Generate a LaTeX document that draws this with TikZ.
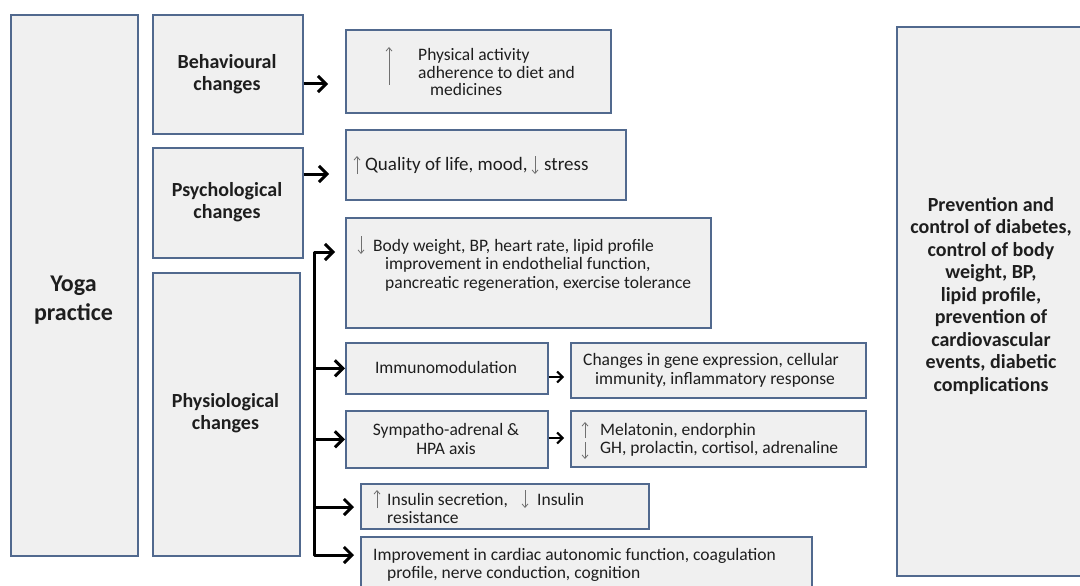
\documentclass[tikz,border=0pt]{standalone}
\usepackage{fontspec}
\setmainfont{Carlito}
\usetikzlibrary{arrows.meta}
\definecolor{bordc}{HTML}{51698E}
\definecolor{fillc}{HTML}{F0F0F0}
\definecolor{txtc}{HTML}{1E1E1E}
\definecolor{arrg}{HTML}{707070}
\begin{document}
\begin{tikzpicture}[x=1pt,y=-1pt,
  box/.style={draw=bordc,fill=fillc,line width=1.6pt,rectangle,inner sep=0pt,anchor=north west},
  lbl/.style={inner sep=0pt,text=txtc,font=\fontsize{17.5}{18.5}\selectfont,align=left,anchor=west},
  blbl/.style={inner sep=0pt,text=txtc,font=\bfseries\fontsize{20}{22.5}\selectfont,align=center},
  bigarr/.style={line width=3pt,-{Straight Barb[length=8pt,width=16pt]},line join=round},
  smarr/.style={line width=2pt,-{Straight Barb[length=5.5pt,width=11pt]}},
  txtarr/.style={arrg,line width=0.8pt,-{Straight Barb[length=3.5pt,width=6pt]}}]
\useasboundingbox (0,0) rectangle (1080,586);
\fill[white] (0,0) rectangle (1080,586);

% boxes
\node[box,minimum width=127pt,minimum height=541pt] (yoga) at (10,14) {};
\node[box,minimum width=150pt,minimum height=119pt] (behav) at (152,14) {};
\node[box,minimum width=150pt,minimum height=110pt] (psych) at (152,147) {};
\node[box,minimum width=147pt,minimum height=283pt] (physio) at (152,272) {};
\node[box,minimum width=265pt,minimum height=83pt] (b1) at (345,29) {};
\node[box,minimum width=280pt,minimum height=70pt] (b2) at (345,129) {};
\node[box,minimum width=365pt,minimum height=110pt] (b3) at (345,217) {};
\node[box,minimum width=202pt,minimum height=51pt] (immuno) at (345,342) {};
\node[box,minimum width=295pt,minimum height=55pt] (genes) at (570,342) {};
\node[box,minimum width=202pt,minimum height=57pt] (symp) at (345,410) {};
\node[box,minimum width=295pt,minimum height=56pt] (melat) at (570,410) {};
\node[box,minimum width=288pt,minimum height=45pt] (insul) at (360,483) {};
\node[box,minimum width=451pt,minimum height=60pt] (cardiac) at (360,536) {};
\node[box,minimum width=200pt,minimum height=549pt] (prev) at (896,26) {};

% bold labels
\node[blbl,font=\bfseries\fontsize{24}{29}\selectfont] (tyoga) at (73.5,300) {Yoga\\practice};
\node[blbl] (tbehav) at (227,74) {Behavioural\\changes};
\node[blbl] (tpsych) at (227,202) {Psychological\\changes};
\node[blbl] (tphysio) at (225.5,413) {Physiological\\changes};
\node[blbl] (tprev) at (991,296) {Prevention and\\control of diabetes,\\control of body\\weight, BP,\\lipid profile,\\prevention of\\cardiovascular\\events, diabetic\\complications};

% plain labels
\node[lbl,font=\fontsize{17.5}{17.5}\selectfont] (t1) at (418,72) {Physical activity\\adherence to diet and\\\hspace*{12pt}medicines};
\node[lbl,font=\fontsize{19}{20}\selectfont] (t2a) at (365,165) {Quality of life, mood,};
\node[lbl,font=\fontsize{19}{20}\selectfont] (t2b) at (544,165) {stress};
\node[lbl] (t3) at (373,265) {Body weight, BP, heart rate, lipid profile\\\hspace*{12pt}improvement in endothelial function,\\\hspace*{12pt}pancreatic regeneration, exercise tolerance};
\node[lbl,anchor=center,align=center] (timm) at (446,367.5) {Immunomodulation};
\node[lbl] (tgenes) at (583,370.5) {Changes in gene expression, cellular\\\hspace*{12pt}immunity, inflammatory response};
\node[lbl,anchor=center,align=center] (tsymp) at (446,439) {Sympatho-adrenal \&\\HPA axis};
\node[lbl] (tmelat) at (600,440) {Melatonin, endorphin\\GH, prolactin, cortisol, adrenaline};
\node[lbl] (tins) at (387,508.5) {Insulin secretion,\\resistance};
\node[lbl] (tins2) at (537,499) {Insulin};
\node[lbl] (tcard) at (373,565) {Improvement in cardiac autonomic function, coagulation\\\hspace*{14pt}profile, nerve conduction, cognition};

% small up/down arrows in texts
\coordinate (u1a) at (389,85); \coordinate (u1b) at (389,47);
\draw[txtarr] (u1a) -- (u1b);
\coordinate (u2a) at (357,174); \coordinate (u2b) at (357,156);
\draw[txtarr] (u2a) -- (u2b);
\coordinate (d2a) at (535,156); \coordinate (d2b) at (535,174);
\draw[txtarr] (d2a) -- (d2b);
\coordinate (d3a) at (361,236); \coordinate (d3b) at (361,254);
\draw[txtarr] (d3a) -- (d3b);
\coordinate (u4a) at (585,438); \coordinate (u4b) at (585,422);
\draw[txtarr] (u4a) -- (u4b);
\coordinate (d4a) at (585,442); \coordinate (d4b) at (585,459);
\draw[txtarr] (d4a) -- (d4b);
\coordinate (u5a) at (377,508); \coordinate (u5b) at (377,490);
\draw[txtarr] (u5a) -- (u5b);
\coordinate (d5a) at (525,490); \coordinate (d5b) at (525,508);
\draw[txtarr] (d5a) -- (d5b);

% connectors
\coordinate (ba) at (328,84);
\draw[bigarr] (behav.east |- ba) -- (ba);
\coordinate (pa) at (329,174);
\draw[bigarr] (psych.east |- pa) -- (pa);
\coordinate (st) at (314,252);
\coordinate (sb) at (314,555);
\coordinate (a3) at (335,252);
\coordinate (a6) at (354,507);
\coordinate (a7) at (354,555);
\draw[bigarr] (sb) -- (st) -- (a3);
\draw[bigarr] (st) -- (sb) -- (a7);
\draw[bigarr] (st |- immuno.west) -- (immuno.west);
\draw[bigarr] (st |- symp.west) -- (symp.west);
\draw[bigarr] (st |- a6) -- (a6);
\coordinate (c1) at (564,377);
\draw[smarr] (immuno.east |- c1) -- (c1);
\coordinate (c2) at (564,438);
\draw[smarr] (symp.east |- c2) -- (c2);
\end{tikzpicture}
\end{document}
